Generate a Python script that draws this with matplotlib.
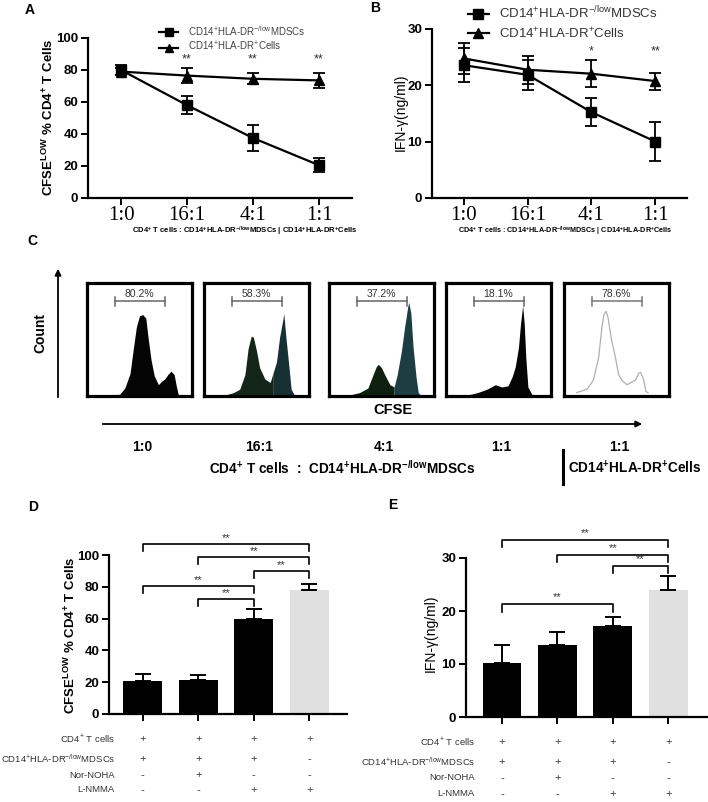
import numpy as np
import matplotlib
matplotlib.use("Agg")
import matplotlib.pyplot as plt
from matplotlib.lines import Line2D
from matplotlib.transforms import blended_transform_factory

W, H = 708, 802

plt.rcParams['font.family'] = ['Liberation Sans', 'DejaVu Sans']
plt.rcParams['mathtext.fontset'] = 'custom'
plt.rcParams['mathtext.rm'] = 'Liberation Sans'
plt.rcParams['mathtext.bf'] = 'Liberation Sans:bold'
plt.rcParams['mathtext.it'] = 'Liberation Sans:italic'
plt.rcParams['mathtext.default'] = 'regular'

# ---- data: panels A and B
ratios = ["1:0", "16:1", "4:1", "1:1"]
a_mdsc = [80, 58, 37.5, 20.5]
a_mdsc_err = [3, 5.5, 8, 4.5]
a_dr = [79, 76.5, 74.5, 73.5]
a_dr_err = [2, 4.5, 3.5, 4.5]
a_stars = ["", "**", "**", "**"]

b_mdsc = [23.5, 21.8, 15.2, 10.0]
b_mdsc_err = [3, 2.6, 2.5, 3.5]
b_dr = [24.7, 22.7, 22.0, 20.7]
b_dr_err = [2.7, 2.5, 2.4, 1.5]
b_stars = ["", "", "*", "**"]

mdsc_label = r"CD14$^{+}$HLA-DR$^{-/low}$MDSCs"
dr_label = r"CD14$^{+}$HLA-DR$^{+}$Cells"

# ---- data: panel C (CFSE histograms, fraction of box)
c_groups = ["1:0", "16:1", "4:1", "1:1", "1:1"]
gate_pct = ["80.2%", "58.3%", "37.2%", "18.1%", "78.6%"]
h1_x = [0.00, 0.12, 0.31, 0.36, 0.41, 0.44, 0.47, 0.50, 0.53, 0.56, 0.58, 0.61, 0.64, 0.68, 0.71, 0.74, 0.77, 0.80, 0.83, 0.85, 0.87, 0.90, 1.00]
h1_y = [0.00, 0.00, 0.015, 0.07, 0.20, 0.41, 0.61, 0.71, 0.72, 0.69, 0.53, 0.32, 0.18, 0.10, 0.13, 0.15, 0.19, 0.22, 0.19, 0.09, 0.01, 0.00, 0.00]
h2_x = [0.00, 0.17, 0.28, 0.34, 0.39, 0.42, 0.45, 0.47, 0.50, 0.53, 0.58, 0.63, 0.66, 0.69, 0.72, 0.75, 0.76, 0.78, 0.81, 0.83, 0.86, 0.90, 1.00]
h2_y = [0.00, 0.00, 0.03, 0.06, 0.19, 0.42, 0.53, 0.52, 0.40, 0.25, 0.15, 0.12, 0.21, 0.30, 0.52, 0.67, 0.73, 0.52, 0.25, 0.06, 0.01, 0.00, 0.00]
h3_x = [0.00, 0.10, 0.20, 0.29, 0.37, 0.42, 0.45, 0.47, 0.50, 0.53, 0.58, 0.62, 0.65, 0.69, 0.72, 0.75, 0.76, 0.78, 0.80, 0.83, 0.85, 0.88, 1.00]
h3_y = [0.00, 0.00, 0.01, 0.03, 0.07, 0.19, 0.26, 0.28, 0.25, 0.19, 0.10, 0.08, 0.19, 0.40, 0.61, 0.79, 0.83, 0.73, 0.44, 0.16, 0.03, 0.00, 0.00]
h4_x = [0.00, 0.21, 0.30, 0.39, 0.47, 0.53, 0.59, 0.63, 0.66, 0.69, 0.71, 0.73, 0.745, 0.76, 0.78, 0.82, 1.00]
h4_y = [0.00, 0.01, 0.03, 0.06, 0.10, 0.08, 0.09, 0.17, 0.26, 0.43, 0.64, 0.80, 0.64, 0.34, 0.08, 0.01, 0.00]
h5_x = [0.12, 0.22, 0.28, 0.33, 0.36, 0.38, 0.40, 0.42, 0.45, 0.49, 0.52, 0.55, 0.60, 0.64, 0.68, 0.71, 0.73, 0.76, 0.78, 0.80]
h5_y = [0.03, 0.06, 0.14, 0.34, 0.60, 0.72, 0.75, 0.69, 0.51, 0.34, 0.19, 0.14, 0.10, 0.12, 0.14, 0.20, 0.21, 0.14, 0.04, 0.03]

# ---- data: panels D and E
d_vals = [21, 21.5, 59.5, 78]
d_err = [4, 3, 6.5, 3.5]
e_vals = [10.2, 13.5, 17.2, 24]
e_err = [3.3, 2.5, 1.6, 2.6]
cond_names = [r"CD4$^{+}$ T cells", mdsc_label, "Nor-NOHA", "L-NMMA"]
cond_signs = [["+", "+", "+", "+"],
              ["+", "+", "+", "-"],
              ["-", "+", "-", "-"],
              ["-", "-", "+", "+"]]
d_pairs = [(0, 3), (1, 3), (2, 3), (0, 2), (1, 2)]
e_pairs = [(0, 3), (1, 3), (2, 3), (0, 2)]

fig = plt.figure(figsize=(W / 100, H / 100), dpi=100)


def px_ax(x0, y0, x1, y1):
    return fig.add_axes([x0 / W, 1 - y1 / H, (x1 - x0) / W, (y1 - y0) / H])


def ftext(x, y, s, **kw):
    fig.text(x / W, 1 - y / H, s, **kw)


def style(ax):
    for s in ['top', 'right']:
        ax.spines[s].set_visible(False)
    for s in ['left', 'bottom']:
        ax.spines[s].set_linewidth(1.6)
    ax.tick_params(width=1.4, length=5, pad=2)


def legend_handles(ms):
    return [Line2D([], [], color='black', marker='s', ms=ms, lw=1.6),
            Line2D([], [], color='black', marker='^', ms=ms, lw=1.6)]


bottom_note = (r"CD4$^{\mathbf{+}}$ T cells : CD14$^{\mathbf{+}}$HLA-DR$^{\mathbf{-/low}}$MDSCs"
               r" | CD14$^{\mathbf{+}}$HLA-DR$^{\mathbf{+}}$Cells")

# ---------------- A
ax = px_ax(88, 38, 352, 198)
x = np.arange(4)
ax.errorbar(x, a_mdsc, yerr=a_mdsc_err, marker='s', ms=7, color='black', lw=1.6,
            capsize=4, elinewidth=1.3, capthick=1.3)
ax.errorbar(x, a_dr, yerr=a_dr_err, marker='^', ms=7, color='black', lw=1.6,
            capsize=4, elinewidth=1.3, capthick=1.3)
for xi, s in zip(x, a_stars):
    ax.text(xi, 83, s, ha='center', va='bottom', fontsize=9, color='#333')
ax.set_xlim(-0.5, 3.5)
ax.set_ylim(0, 100)
style(ax)
ax.set_xticks(x, ratios, fontfamily='Liberation Serif', fontsize=15)
ax.tick_params(axis='x', pad=1)
ax.set_yticks(range(0, 101, 20))
ax.tick_params(axis='y', labelsize=9.5)
for t in ax.get_yticklabels():
    t.set_fontweight('bold')
ax.legend(legend_handles(5.5), [mdsc_label, dr_label], loc='upper left',
          bbox_to_anchor=(154 / W, 1 - 19 / H), bbox_transform=fig.transFigure,
          frameon=False, fontsize=7, labelcolor='#444', handlelength=2.0, borderpad=0,
          labelspacing=0.25, handletextpad=1.0)
ftext(48, 117, r"CFSE$^{\mathbf{LOW}}$ % CD4$^{\mathbf{+}}$ T Cells", rotation=90,
      ha='center', va='center', fontsize=9.5, fontweight='bold')
ftext(245, 231, bottom_note, ha='center', va='center', fontsize=5.5, fontweight='bold')

# ---------------- B
ax = px_ax(432, 28.5, 687, 198)
ax.errorbar(x, b_mdsc, yerr=b_mdsc_err, marker='s', ms=7, color='black', lw=1.6,
            capsize=4, elinewidth=1.3, capthick=1.3)
ax.errorbar(x, b_dr, yerr=b_dr_err, marker='^', ms=7, color='black', lw=1.6,
            capsize=4, elinewidth=1.3, capthick=1.3)
for xi, s in zip(x, b_stars):
    ax.text(xi, 24.8, s, ha='center', va='bottom', fontsize=9, color='#333')
ax.set_xlim(-0.5, 3.5)
ax.set_ylim(0, 30)
style(ax)
ax.set_xticks(x, ratios, fontfamily='Liberation Serif', fontsize=15)
ax.tick_params(axis='x', pad=1)
ax.set_yticks([0, 10, 20, 30])
ax.tick_params(axis='y', labelsize=9.5)
for t in ax.get_yticklabels():
    t.set_fontweight('bold')
ax.legend(legend_handles(6.5), [mdsc_label, dr_label], loc='upper left',
          bbox_to_anchor=(461 / W, 1 + 2 / H), bbox_transform=fig.transFigure,
          frameon=False, fontsize=9.5, labelcolor='#333', handlelength=1.6, borderpad=0,
          labelspacing=0.35, handletextpad=0.8)
ftext(401, 112, r"IFN-γ(ng/ml)", rotation=90, ha='center', va='center', fontsize=10)
ftext(565, 231, bottom_note, ha='center', va='center', fontsize=5.2, fontweight='bold')

# ---------------- C
over = fig.add_axes([0, 0, 1, 1], zorder=-1)
over.set_xlim(0, W)
over.set_ylim(H, 0)
over.axis('off')
over.annotate('', xy=(58, 266), xytext=(58, 400),
              arrowprops=dict(arrowstyle='-|>', lw=1.3, color='black', mutation_scale=9))
over.annotate('', xy=(645, 424), xytext=(100, 424),
              arrowprops=dict(arrowstyle='-|>', lw=1.3, color='black', mutation_scale=9))
over.plot([563, 563], [450, 484], color='black', lw=2.2)

ftext(40, 333, "Count", rotation=90, ha='center', va='center', fontsize=10, fontweight='bold')
ftext(393, 410, "CFSE", ha='center', va='center', fontsize=10.5, fontweight='bold')

box_x0 = [87, 204, 329, 446, 564]
hists = [(h1_x, h1_y), (h2_x, h2_y), (h3_x, h3_y), (h4_x, h4_y), (h5_x, h5_y)]
fills = [('#050505', '#050505', 1.0), ('#14261a', '#163034', 0.66),
         ('#0e1f10', '#1c3d42', 0.62), ('#050505', '#050505', 1.0), None]
centers = []
for i, (x0, (hx, hy)) in enumerate(zip(box_x0, hists)):
    bx = px_ax(x0, 283, x0 + 105, 396)
    bx.set_xlim(0, 1)
    bx.set_ylim(0, 1)
    bx.set_xticks([])
    bx.set_yticks([])
    for s in bx.spines.values():
        s.set_linewidth(2.3)
    hx = np.array(hx)
    hy = np.array(hy)
    if fills[i] is None:
        bx.plot(hx, hy, color='#b0b0b0', lw=0.9)
    else:
        c1, c2, split = fills[i]
        bx.fill_between(hx, hy, where=hx <= split, color=c1, lw=0)
        bx.fill_between(hx, hy, where=hx >= split, color=c2, lw=0)
    gc = '#666' if i < 4 else '#777'
    bx.plot([0.27, 0.74], [0.84, 0.84], color=gc, lw=1.1)
    for gx in (0.27, 0.74):
        bx.plot([gx, gx], [0.80, 0.88], color=gc, lw=1.1)
    bx.text(0.5, 0.86, gate_pct[i], ha='center', va='bottom', fontsize=7.5, color='#333')
    centers.append(x0 + 52)

for cx, g in zip(centers, c_groups):
    ftext(cx + 3, 447, g, ha='center', va='center', fontsize=10, fontweight='bold')
ftext(342, 468, r"CD4$^{\mathbf{+}}$ T cells  :  CD14$^{\mathbf{+}}$HLA-DR$^{\mathbf{-/low}}$MDSCs",
      ha='center', va='center', fontsize=9.8, fontweight='bold')
ftext(635, 468, r"CD14$^{\mathbf{+}}$HLA-DR$^{\mathbf{+}}$Cells",
      ha='center', va='center', fontsize=9.8, fontweight='bold')

# ---------------- D and E
bar_colors = ['black', 'black', 'black', '#e0e0e0']


def bar_panel(ax, vals, err, ymax, yticks, pairs, levels, drop, star_gap, label_right, rows_y):
    xb = np.arange(4)
    ax.bar(xb, vals, width=0.7, color=bar_colors, zorder=2)
    ax.errorbar(xb, vals, yerr=[np.zeros(4), err], fmt='none', ecolor='black',
                capsize=6, elinewidth=1.4, capthick=1.4, zorder=3)
    ax.set_ylim(0, ymax)
    style(ax)
    ax.set_xticks(xb, [''] * 4)
    ax.set_yticks(yticks)
    ax.tick_params(axis='y', labelsize=9.5)
    for t in ax.get_yticklabels():
        t.set_fontweight('bold')
    for (i, j), lv in zip(pairs, levels):
        ax.plot([i, i, j, j], [lv - drop, lv, lv, lv - drop], color='black', lw=1.2, clip_on=False)
        ax.text((i + j) / 2, lv + star_gap, "**", ha='center', va='bottom', fontsize=8, color='#333')
    tr = blended_transform_factory(ax.transData, fig.transFigure)
    for name, signs, ry in zip(cond_names, cond_signs, rows_y):
        ftext(label_right, ry, name, ha='right', va='center', fontsize=6.8, color='#333')
        for xi, s in zip(xb, signs):
            ax.text(xi, 1 - ry / H, s, transform=tr, ha='center', va='center',
                    fontsize=8, color='#333')


ax = px_ax(109, 555, 347, 714)
ax.set_xlim(-0.61, 3.68)
bar_panel(ax, d_vals, d_err, 100, range(0, 101, 20), d_pairs,
          [107, 98.7, 90, 80.5, 72.3], 4.5, 0.8, 115, [739, 759, 775, 790])
ftext(70, 635, r"CFSE$^{\mathbf{LOW}}$ % CD4$^{\mathbf{+}}$ T Cells", rotation=90,
      ha='center', va='center', fontsize=9.5, fontweight='bold')

ax = px_ax(466, 558, 707, 717)
ax.set_xlim(-0.65, 3.7)
bar_panel(ax, e_vals, e_err, 30, [0, 10, 20, 30], e_pairs,
          [33.4, 30.6, 28.5, 21.3], 1.4, 0.3, 475, [742, 762, 778, 794])
ftext(431, 633, r"IFN-γ(ng/ml)", rotation=90, ha='center', va='center', fontsize=10)

# panel letters
for lx, ly, lt in [(30, 10, 'A'), (375, 8, 'B'), (32, 241, 'C'), (33, 507, 'D'), (393, 505, 'E')]:
    ftext(lx, ly, lt, ha='center', va='center', fontsize=10, fontweight='bold')

fig.savefig('out.png', dpi=100)
